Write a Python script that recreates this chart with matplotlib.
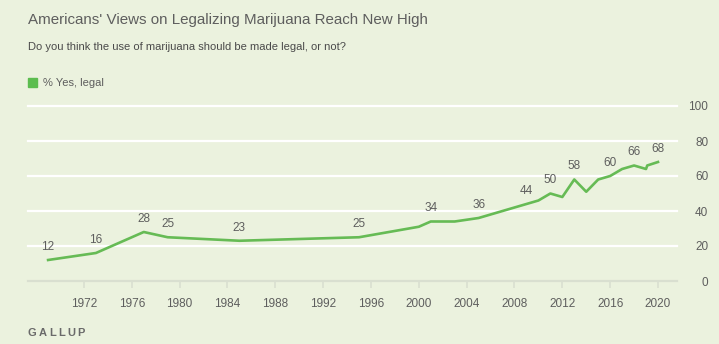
import matplotlib.pyplot as plt
from matplotlib import font_manager
import numpy as np

plt.rcParams['font.family'] = ['Liberation Sans', 'DejaVu Sans']

# Gallup: % saying marijuana should be made legal
years = [1969, 1973, 1977, 1979, 1985, 1995, 2000, 2001, 2003, 2005,
         2009, 2010, 2011, 2012, 2013, 2014, 2015, 2016, 2017, 2018,
         2019, 2019.1, 2020]
pct_yes = [12, 16, 28, 25, 23, 25, 31, 34, 34, 36,
           44, 46, 50, 48, 58, 51, 58, 60, 64, 66,
           64, 66, 68]
labeled_years = [1969, 1973, 1977, 1979, 1985, 1995, 2001, 2005,
                 2009, 2011, 2013, 2016, 2018, 2020]
x_ticks = list(range(1972, 2021, 4))
y_ticks = [0, 20, 40, 60, 80, 100]

bg = '#ebf2de'
line_green = '#66bb55'
text_gray = '#5e5e5e'

names = {f.name for f in font_manager.fontManager.ttflist}
title_font = ['Liberation Sans Narrow'] if 'Liberation Sans Narrow' in names else ['Liberation Sans']

fig = plt.figure(figsize=(7.19, 3.44), dpi=100, facecolor=bg)
ax = fig.add_axes([28 / 719, 63 / 344, 649 / 719, 175 / 344])
ax.set_facecolor(bg)

ax.set_xlim(1967.32, 2021.59)
ax.set_ylim(0, 100)

for y in y_ticks[1:]:
    ax.axhline(y, color='white', lw=1.6, zorder=1, clip_on=False)
ax.axhline(0, color='#d9dfd0', lw=1.6, zorder=1, clip_on=False)

ax.plot(years, pct_yes, color=line_green, lw=1.9, zorder=3,
        solid_joinstyle='round', clip_on=False)

for yr, v in zip(years, pct_yes):
    if yr in labeled_years:
        ax.annotate(str(v), (yr, v), xytext=(0, 9.5), textcoords='offset points',
                    ha='center', va='center', fontsize=8.5, color=text_gray)

for s in ax.spines.values():
    s.set_visible(False)

ax.set_xticks(x_ticks)
ax.set_xticklabels([str(t) for t in x_ticks])
ax.tick_params(axis='x', length=5, width=1.2, color='#d9dfd0',
               labelsize=8.5, labelcolor=text_gray, pad=7)

ax.yaxis.tick_right()
ax.set_yticks(y_ticks)
ax.tick_params(axis='y', length=0, labelsize=8.5, labelcolor=text_gray, pad=22.5)
for lab in ax.get_yticklabels():
    lab.set_horizontalalignment('right')

t = fig.text(28 / 719, 1 - 20 / 344, "Americans' Views on Legalizing Marijuana Reach New High",
             fontsize=14, color=text_gray, va='center', ha='left', family=title_font)
fig.text(28 / 719, 1 - 47 / 344, "Do you think the use of marijuana should be made legal, or not?",
         fontsize=8, color='#4a4a4a', va='center', ha='left')

fig.patches.append(plt.Rectangle((28 / 719, 1 - 87 / 344), 9 / 719, 9 / 344,
                                 transform=fig.transFigure, color='#5cbd4f'))
fig.text(43 / 719, 1 - 82.5 / 344, "% Yes, legal", fontsize=8, color=text_gray,
         va='center', ha='left')

# squeeze the title to the width it has in the original
renderer = fig.canvas.get_renderer()
w = t.get_window_extent(renderer).width
if w > 0:
    t.set_fontsize(14 * min(1.0, 403 / w))

# GALLUP wordmark, letter-spaced
x = 28.0
for ch in "GALLUP":
    lt = fig.text(x / 719, 1 - 333 / 344, ch, fontsize=8, color='#6a6a6a',
                  va='center', ha='left', fontweight='bold')
    x += lt.get_window_extent(renderer).width + 2.2

fig.savefig('out.png', dpi=100, facecolor=bg)
